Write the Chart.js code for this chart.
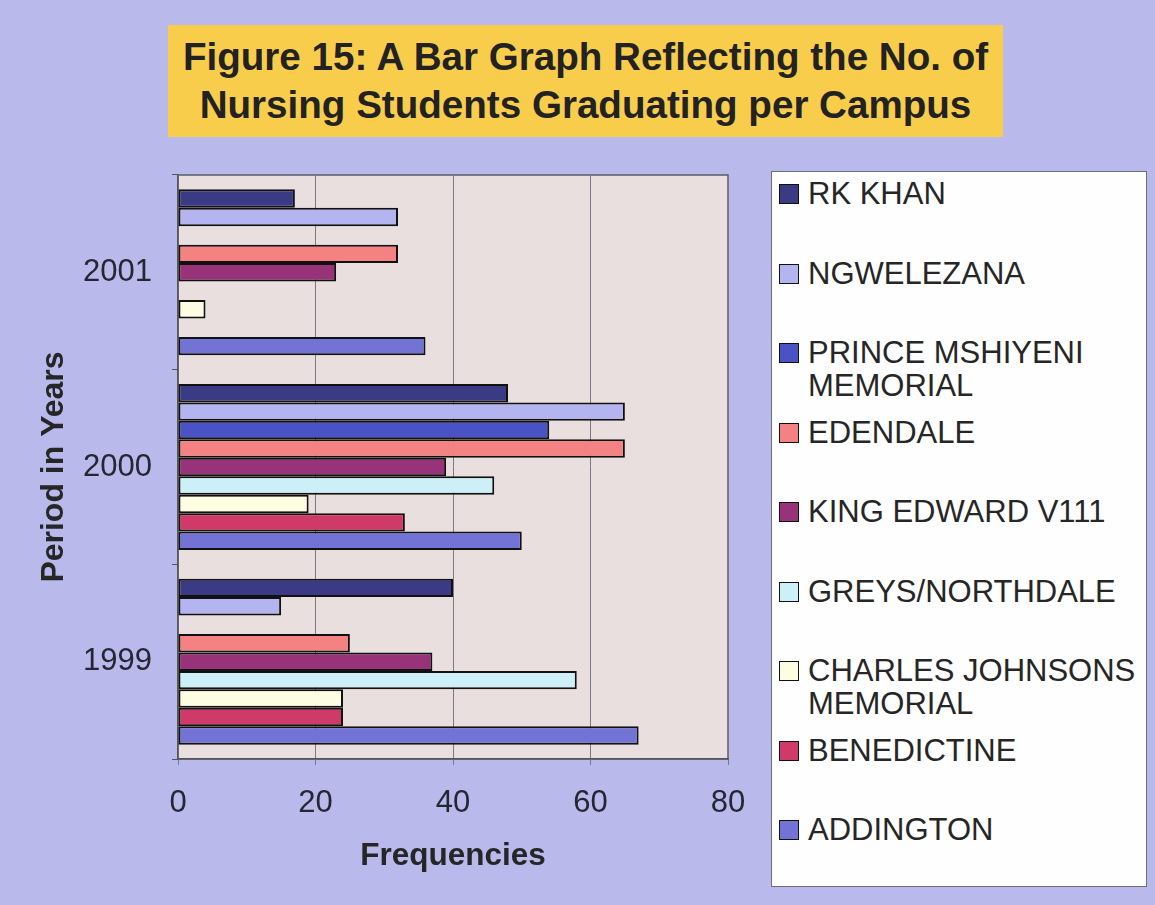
<!DOCTYPE html>
<html lang="en">
<head>
    <meta charset="UTF-8">
    <title>Figure 15</title>
    <script src="https://cdn.jsdelivr.net/npm/chart.js"></script>
    <style>
        body {
            margin: 0;
            background-color: #b9b9eb;
            font-family: "Liberation Sans", Arial, sans-serif;
        }
        #wrap {
            position: relative;
            width: 1155px;
            height: 905px;
        }
        #grafica {
            position: absolute;
            left: 0;
            top: 0;
        }
        #titulo {
            position: absolute;
            left: 168px;
            top: 25px;
            width: 835px;
            height: 112px;
            background-color: #f8cd4c;
            box-sizing: border-box;
            padding-top: 8px;
            text-align: center;
            font-weight: bold;
            font-size: 38.6px;
            line-height: 48px;
            color: #222;
        }
        #leyenda {
            position: absolute;
            left: 771px;
            top: 171px;
            width: 376px;
            height: 716px;
            background-color: #fefefe;
            border: 1px solid #6d6d80;
            box-sizing: border-box;
        }
        .item {
            position: absolute;
            left: 0;
            width: 370px;
        }
        .caja {
            position: absolute;
            left: 7px;
            top: 7px;
            width: 18px;
            height: 18px;
            border: 1.5px solid #111;
        }
        .texto {
            position: absolute;
            left: 36px;
            top: 0;
            width: 335px;
            font-size: 31px;
            line-height: 33px;
            color: #262626;
        }
    </style>
</head>
<body>
<div id="wrap">
    <canvas id="grafica" width="1155" height="905"></canvas>
    <div id="titulo">Figure 15: A Bar Graph Reflecting the No. of<br>Nursing Students Graduating per Campus</div>
    <div id="leyenda"></div>
</div>

<script>
    // años de arriba hacia abajo
    const years = ["2001", "2000", "1999"];
    const xTicks = [0, 20, 40, 60, 80];

    const campus = ["RK KHAN", "NGWELEZANA", "PRINCE MSHIYENI MEMORIAL", "EDENDALE",
        "KING EDWARD V111", "GREYS/NORTHDALE", "CHARLES JOHNSONS MEMORIAL", "BENEDICTINE", "ADDINGTON"];

    // valores por campus: 2001, 2000, 1999
    const rkKhan = [17, 48, 40];
    const ngwelezana = [32, 65, 15];
    const princeMshiyeni = [0, 54, 0];
    const edendale = [32, 65, 25];
    const kingEdward = [23, 39, 37];
    const greys = [0, 46, 58];
    const charlesJohnsons = [4, 19, 24];
    const benedictine = [0, 33, 24];
    const addington = [36, 50, 67];

    const colores = ["#3b3b85", "#b4b4f0", "#4a52c6", "#f58282", "#993379",
        "#cdf0f8", "#fdfde2", "#cf3a68", "#7373d6"];

    const valores = [rkKhan, ngwelezana, princeMshiyeni, edendale, kingEdward,
        greys, charlesJohnsons, benedictine, addington];

    const datasets = campus.map((nombre, i) => ({
        label: nombre,
        data: valores[i],
        backgroundColor: colores[i],
        borderColor: "#111",
        borderWidth: 2,
        borderSkipped: false,
        categoryPercentage: 0.853,
        barPercentage: 1.0
    }));

    const fondoPlot = {
        id: "fondoPlot",
        beforeDraw(chart) {
            const {ctx, chartArea: a} = chart;
            ctx.save();
            ctx.fillStyle = "#e9dfdf";
            ctx.fillRect(a.left, a.top, a.right - a.left, a.bottom - a.top);
            ctx.strokeStyle = "#5a5a6a";
            ctx.lineWidth = 1.5;
            ctx.strokeRect(a.left, a.top, a.right - a.left, a.bottom - a.top);
            ctx.restore();
        }
    };

    const fuente = "'Liberation Sans', Arial, sans-serif";

    new Chart(document.getElementById("grafica").getContext("2d"), {
        type: "bar",
        data: { labels: years, datasets: datasets },
        plugins: [fondoPlot],
        options: {
            indexAxis: "y",
            responsive: false,
            animation: false,
            layout: { padding: { top: 175, right: 427, bottom: 0, left: 0 } },
            plugins: {
                legend: { display: false },
                title: { display: false },
                tooltip: { enabled: false }
            },
            scales: {
                x: {
                    min: 0,
                    max: 80,
                    afterBuildTicks: s => { s.ticks = xTicks.map(v => ({ value: v })); },
                    afterFit: s => { s.height = 146; },
                    grid: { color: "#7a7a86", lineWidth: 1, tickLength: 6 },
                    border: { color: "#555", width: 1.5 },
                    ticks: {
                        padding: 20,
                        color: "#262633",
                        font: { family: fuente, size: 31 }
                    },
                    title: {
                        display: true,
                        text: "Frequencies",
                        color: "#262626",
                        padding: { bottom: 30 },
                        font: { family: fuente, size: 31.5, weight: "bold" }
                    }
                },
                y: {
                    afterFit: s => { s.width = 178; },
                    grid: { drawOnChartArea: false, color: "#555", tickLength: 6 },
                    border: { color: "#555", width: 1.5 },
                    ticks: {
                        padding: 20,
                        color: "#262633",
                        font: { family: fuente, size: 31 }
                    },
                    title: {
                        display: true,
                        text: "Period in Years",
                        color: "#262626",
                        padding: { top: 35 },
                        font: { family: fuente, size: 32, weight: "bold" }
                    }
                }
            }
        }
    });

    // leyenda a mano, paso fijo como en el original
    const leyenda = document.getElementById("leyenda");
    campus.forEach((nombre, i) => {
        const item = document.createElement("div");
        item.className = "item";
        item.style.top = (5 + i * 79.5) + "px";
        item.innerHTML = '<div class="caja" style="background:' + colores[i] + '"></div>' +
            '<div class="texto">' + nombre + '</div>';
        leyenda.appendChild(item);
    });
</script>
</body>
</html>
